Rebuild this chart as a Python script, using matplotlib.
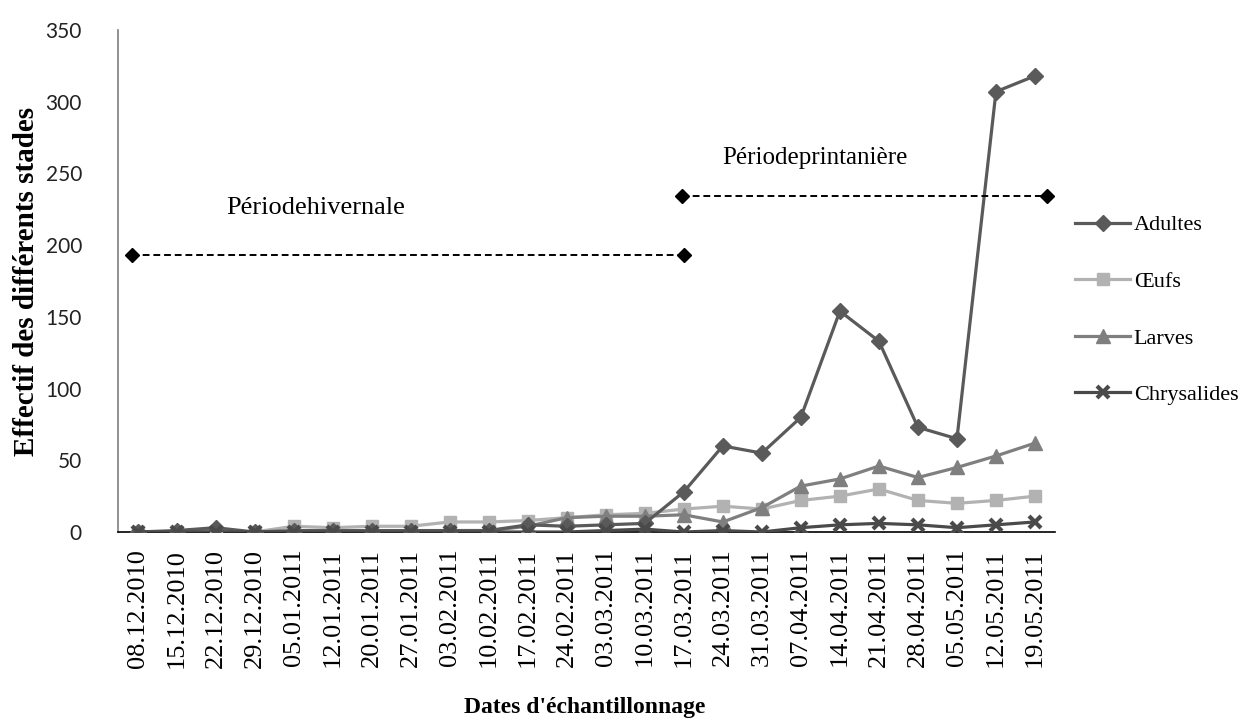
import matplotlib
matplotlib.use("Agg")
import matplotlib.pyplot as plt
import numpy as np

dates = ["08.12.2010", "15.12.2010", "22.12.2010", "29.12.2010", "05.01.2011",
         "12.01.2011", "20.01.2011", "27.01.2011", "03.02.2011", "10.02.2011",
         "17.02.2011", "24.02.2011", "03.03.2011", "10.03.2011", "17.03.2011",
         "24.03.2011", "31.03.2011", "07.04.2011", "14.04.2011", "21.04.2011",
         "28.04.2011", "05.05.2011", "12.05.2011", "19.05.2011"]

adultes = [0, 1, 3, 0, 1, 1, 1, 1, 1, 1, 5, 4, 5, 6, 28, 60, 55, 80, 154, 133, 73, 65, 307, 318]
oeufs = [0, 0, 0, 0, 4, 3, 4, 4, 7, 7, 8, 10, 12, 13, 16, 18, 16, 22, 25, 30, 22, 20, 22, 25]
larves = [0, 0, 1, 0, 0, 0, 0, 0, 1, 1, 4, 10, 11, 11, 12, 7, 17, 32, 37, 46, 38, 45, 53, 62]
chrysalides = [0, 0, 0, 0, 0, 0, 0, 0, 0, 0, 0, 0, 1, 2, 0, 1, 0, 3, 5, 6, 5, 3, 5, 7]

series_names = ["Adultes", "\u0152ufs", "Larves", "Chrysalides"]
yticks = [0, 50, 100, 150, 200, 250, 300, 350]

# period annotations (x in category index units, y in data units)
hiver_x = [-0.13, 14.0]
hiver_y = 193
print_x = [13.95, 23.3]
print_y = 234

fig = plt.figure(figsize=(12.53, 7.2), dpi=100)
ax = fig.add_axes([118 / 1253, 1 - 532 / 720, (1054.5 - 118) / 1253, (532 - 30) / 720])

x = np.arange(len(dates))
serif = "Liberation Serif"

ax.plot(x, adultes, color="#5a5a5a", lw=2.3, marker="D", ms=8, label=series_names[0], zorder=5)
ax.plot(x, oeufs, color="#b2b2b2", lw=2.3, marker="s", ms=9, label=series_names[1], zorder=3)
ax.plot(x, larves, color="#7f7f7f", lw=2.3, marker="^", ms=9.5, label=series_names[2], zorder=4)
ax.plot(x, chrysalides, color="#4a4a4a", lw=2.3, marker="x", ms=9, mew=3, label=series_names[3], zorder=6)

ax.plot(hiver_x, [hiver_y, hiver_y], color="black", lw=1.4, ls=(0, (3.5, 2)),
        marker="D", ms=7, clip_on=False, zorder=7)
ax.plot(print_x, [print_y, print_y], color="black", lw=1.4, ls=(0, (3.5, 2)),
        marker="D", ms=7, clip_on=False, zorder=7)

ax.text(4.56, 226, "P\u00e9riodehivernale", fontsize=19, family=serif, ha="center", va="center")
ax.text(17.35, 261, "P\u00e9riodeprintani\u00e8re", fontsize=18, family=serif, ha="center", va="center")

ax.set_xlim(-0.5, 23.5)
ax.set_ylim(0, 350)
ax.set_xticks(x)
ax.set_xticklabels(dates, rotation=90, fontsize=19, family=serif)
ax.set_yticks(yticks)
ax.set_yticklabels([str(v) for v in yticks], fontsize=15, family="Lato", color="#222222")
ax.tick_params(axis="both", length=0)
ax.tick_params(axis="y", pad=26)
ax.tick_params(axis="x", pad=12)

for s in ["top", "right"]:
    ax.spines[s].set_visible(False)
ax.spines["left"].set_color("#7f7f7f")
ax.spines["left"].set_linewidth(1.2)
ax.spines["bottom"].set_color("black")
ax.spines["bottom"].set_linewidth(1.2)

ax.set_ylabel("Effectif des diff\u00e9rents stades", fontsize=21, family=serif, fontweight="bold")
ax.yaxis.set_label_coords((40 - 118) / 936.5, 0.5)
ax.set_xlabel("Dates d'\u00e9chantillonnage", fontsize=17, family=serif, fontweight="bold")
ax.xaxis.set_label_coords((585 - 118) / 936.5, -(708 - 532) / 502)
ax.xaxis.label.set_va("center")

leg = ax.legend(loc="upper left", bbox_to_anchor=(1066 / 1253, 1 - 206 / 720), bbox_transform=fig.transFigure,
                frameon=False, prop={"family": serif, "size": 16}, labelspacing=1.62,
                handlelength=2.5, handletextpad=0.15, borderaxespad=0)

fig.savefig("out.png", dpi=100)
